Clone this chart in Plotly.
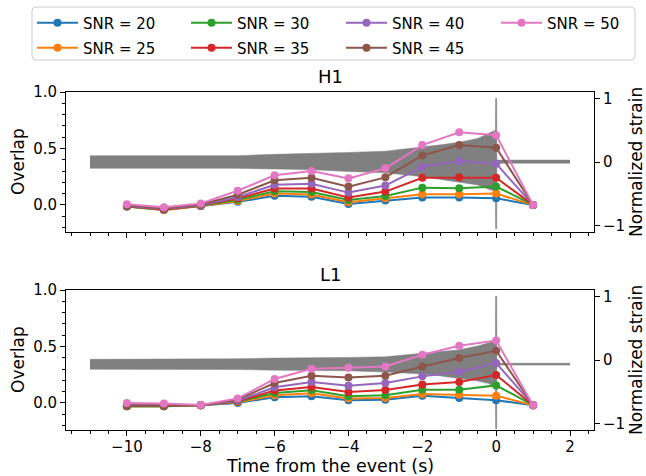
import plotly.graph_objects as go

# ---------------- data ----------------
time_overlap = [-10, -9, -8, -7, -6, -5, -4, -3, -2, -1, 0, 1]
snr_values = [20, 25, 30, 35, 40, 45, 50]
snr_colors = ["#1f77b4", "#ff7f0e", "#2ca02c", "#d62728", "#9467bd", "#8c564b", "#e377c2"]

h1_snr20 = [-0.015, -0.045, -0.010, 0.027, 0.080, 0.072, 0.009, 0.038, 0.065, 0.065, 0.058, 0.0]
h1_snr25 = [-0.015, -0.045, -0.010, 0.035, 0.100, 0.093, 0.024, 0.059, 0.094, 0.094, 0.100, 0.0]
h1_snr30 = [-0.015, -0.040, -0.008, 0.045, 0.120, 0.115, 0.044, 0.079, 0.153, 0.147, 0.162, 0.0]
h1_snr35 = [-0.012, -0.040, -0.005, 0.058, 0.145, 0.145, 0.065, 0.118, 0.241, 0.244, 0.241, 0.0]
h1_snr40 = [-0.010, -0.035, -0.003, 0.070, 0.178, 0.187, 0.109, 0.171, 0.338, 0.388, 0.365, 0.0]
h1_snr45 = [-0.005, -0.030, 0.003, 0.090, 0.218, 0.240, 0.162, 0.244, 0.438, 0.530, 0.506, 0.0]
h1_snr50 = [0.005, -0.020, 0.012, 0.126, 0.262, 0.300, 0.235, 0.324, 0.530, 0.644, 0.618, 0.0]

l1_snr20 = [-0.030, -0.030, -0.020, 0.000, 0.050, 0.059, 0.023, 0.029, 0.064, 0.044, 0.023, -0.020]
l1_snr25 = [-0.030, -0.030, -0.020, 0.005, 0.067, 0.085, 0.038, 0.044, 0.079, 0.073, 0.064, -0.020]
l1_snr30 = [-0.030, -0.030, -0.020, 0.010, 0.088, 0.111, 0.059, 0.067, 0.117, 0.117, 0.155, -0.020]
l1_snr35 = [-0.025, -0.025, -0.020, 0.015, 0.109, 0.141, 0.097, 0.115, 0.164, 0.185, 0.247, -0.020]
l1_snr40 = [-0.020, -0.020, -0.020, 0.020, 0.138, 0.185, 0.153, 0.176, 0.235, 0.276, 0.353, -0.020]
l1_snr45 = [-0.020, -0.020, -0.020, 0.030, 0.176, 0.241, 0.226, 0.241, 0.323, 0.397, 0.462, -0.020]
l1_snr50 = [0.000, -0.005, -0.018, 0.040, 0.212, 0.303, 0.312, 0.323, 0.426, 0.506, 0.553, -0.020]

h1_overlaps = [h1_snr20, h1_snr25, h1_snr30, h1_snr35, h1_snr40, h1_snr45, h1_snr50]
l1_overlaps = [l1_snr20, l1_snr25, l1_snr30, l1_snr35, l1_snr40, l1_snr45, l1_snr50]

# normalized strain, drawn as its envelope (upper / lower edge)
strain_time = [-11, -10, -9, -8, -7, -6, -5, -4, -3, -2, -1.5, -1, -0.5, -0.2, -0.02, -0.015, 0.015, 0.02, 2]
h1_strain_upper = [0.10, 0.10, 0.10, 0.09, 0.10, 0.12, 0.13, 0.15, 0.17, 0.23, 0.27, 0.31, 0.37, 0.45, 0.50, 1.00, 1.00, 0.03, 0.03]
h1_strain_lower = [-0.10, -0.10, -0.10, -0.09, -0.10, -0.11, -0.12, -0.15, -0.17, -0.23, -0.27, -0.31, -0.36, -0.43, -0.46, -1.05, -1.05, -0.02, -0.02]
l1_strain_upper = [0.01, 0.01, 0.01, 0.01, 0.02, 0.03, 0.03, 0.04, 0.05, 0.10, 0.13, 0.16, 0.22, 0.27, 0.33, 1.00, 1.00, -0.05, -0.05]
l1_strain_lower = [-0.145, -0.145, -0.145, -0.145, -0.15, -0.16, -0.16, -0.17, -0.19, -0.22, -0.25, -0.29, -0.33, -0.37, -0.43, -1.08, -1.08, -0.08, -0.08]

panel_titles = ["H1", "L1"]
x_tick_values = [-10, -8, -6, -4, -2, 0, 2]
x_title = "Time from the event (s)"
y_left_title = "Overlap"
y_right_title = "Normalized strain"

# ---------------- figure ----------------
W, H = 646, 476
m_l, m_r, m_t, m_b = 66, 52, 92, 46
pw = W - m_l - m_r
ph = H - m_t - m_b
gap_frac = (290 - 232) / ph
panel_h = (1 - gap_frac) / 2

FONT = "DejaVu Sans"
GRAY = "#808080"

# legend layout (pixels from top-left): column x of item origin, row y centre
leg_col_x = [32, 186, 341, 496]
leg_row_y = [23, 48]
leg_box = (32, 7, 635, 60)


def px2paper_x(px):
    return (px - m_l) / pw


def px2paper_y(py):
    return (H - m_b - py) / ph


fig = go.Figure()

panels = [
    dict(x="x", ys="y", yo="y2", up=h1_strain_upper, lo=h1_strain_lower, ov=h1_overlaps),
    dict(x="x2", ys="y3", yo="y4", up=l1_strain_upper, lo=l1_strain_lower, ov=l1_overlaps),
]

legend_layouts = {}
for pi, p in enumerate(panels):
    fig.add_trace(go.Scatter(x=strain_time, y=p["lo"], xaxis=p["x"], yaxis=p["ys"], mode="lines",
                             line=dict(color=GRAY, width=0.5), showlegend=False, hoverinfo="skip"))
    fig.add_trace(go.Scatter(x=strain_time, y=p["up"], xaxis=p["x"], yaxis=p["ys"], mode="lines",
                             line=dict(color=GRAY, width=0.5), fill="tonexty", fillcolor=GRAY,
                             showlegend=False, hoverinfo="skip"))
    for si, (snr, col, vals) in enumerate(zip(snr_values, snr_colors, p["ov"])):
        lname = "legend" if si == 0 else f"legend{si + 1}"
        fig.add_trace(go.Scatter(x=time_overlap, y=vals, xaxis=p["x"], yaxis=p["yo"],
                                 mode="lines+markers", name=f"SNR = {snr}",
                                 line=dict(color=col, width=2), marker=dict(color=col, size=8),
                                 showlegend=(pi == 0), legend=lname))
        if pi == 0:
            legend_layouts[lname] = dict(
                xref="container", yref="container",
                x=leg_col_x[si // 2] / W, y=1 - leg_row_y[si % 2] / H,
                xanchor="left", yanchor="middle", orientation="v",
                bgcolor="rgba(0,0,0,0)", borderwidth=0, itemwidth=41,
                font=dict(family=FONT, size=15, color="black"))

axis_common = dict(showline=True, linecolor="black", linewidth=1, showgrid=False, zeroline=False,
                   ticks="outside", ticklen=5, tickwidth=1, tickcolor="black",
                   tickfont=dict(family=FONT, size=15, color="black"))

dom_top = [1 - panel_h, 1]
dom_bot = [0, panel_h]

xcommon = dict(axis_common, range=[-11.65, 2.65], tickvals=x_tick_values, mirror=True,
               minor=dict(dtick=0.5, tick0=0, ticks="outside", ticklen=3, tickcolor="black"))
ycommon_left = dict(axis_common, side="left", range=[-0.24, 1.0], tickvals=[0, 0.5, 1.0], tickformat=".1f",
                    minor=dict(dtick=0.1, tick0=0, ticks="outside", ticklen=3, tickcolor="black"))
ycommon_right = dict(axis_common, side="right", range=[-1.1, 1.1], tickvals=[-1, 0, 1])
fig.update_layout(
    xaxis=dict(xcommon, domain=[0, 1], anchor="y", showticklabels=False, matches="x2"),
    xaxis2=dict(xcommon, domain=[0, 1], anchor="y3", ticklabelstandoff=-2),
    yaxis=dict(ycommon_right, domain=dom_top, anchor="x"),
    yaxis2=dict(ycommon_left, overlaying="y", anchor="x"),
    yaxis3=dict(ycommon_right, domain=dom_bot, anchor="x2"),
    yaxis4=dict(ycommon_left, overlaying="y3", anchor="x2"),
)

lbl = dict(family=FONT, size=17, color="black")
for title, dom in zip(panel_titles, [dom_top, dom_bot]):
    fig.add_annotation(text=title, xref="paper", yref="paper", x=0.5, y=dom[1], yanchor="bottom",
                       yshift=3, showarrow=False, font=dict(family=FONT, size=18, color="black"))
    ymid = (dom[0] + dom[1]) / 2
    fig.add_annotation(text=y_left_title, xref="paper", yref="paper", x=px2paper_x(18), y=ymid,
                       xanchor="center", yanchor="middle", textangle=-90, showarrow=False, font=lbl)
    fig.add_annotation(text=y_right_title, xref="paper", yref="paper", x=px2paper_x(636), y=ymid,
                       xanchor="center", yanchor="middle", textangle=-90, showarrow=False, font=lbl)

fig.add_annotation(text=x_title, xref="paper", yref="paper", x=0.5, y=px2paper_y(465.5),
                   xanchor="center", yanchor="middle", showarrow=False,
                   font=dict(family=FONT, size=17.5, color="black"))

# legend frame (rounded box)
bx0, by0 = px2paper_x(leg_box[0]), px2paper_y(leg_box[1])
bx1, by1 = px2paper_x(leg_box[2]), px2paper_y(leg_box[3])
rx, ry = 4 / pw, 4 / ph
path = (f"M {bx0 + rx},{by0} L {bx1 - rx},{by0} Q {bx1},{by0} {bx1},{by0 - ry} "
        f"L {bx1},{by1 + ry} Q {bx1},{by1} {bx1 - rx},{by1} "
        f"L {bx0 + rx},{by1} Q {bx0},{by1} {bx0},{by1 + ry} "
        f"L {bx0},{by0 - ry} Q {bx0},{by0} {bx0 + rx},{by0} Z")
fig.add_shape(type="path", path=path, xref="paper", yref="paper",
              line=dict(color="#cccccc", width=1), fillcolor="white", layer="above")

fig.update_layout(
    width=W, height=H,
    margin=dict(l=m_l, r=m_r, t=m_t, b=m_b, autoexpand=False),
    plot_bgcolor="white", paper_bgcolor="white",
    font=dict(family=FONT, color="black"),
    showlegend=True,
    **legend_layouts,
)

fig.write_html("out.html", config={"displayModeBar": False},
               post_script="document.body.style.margin='0px';")
